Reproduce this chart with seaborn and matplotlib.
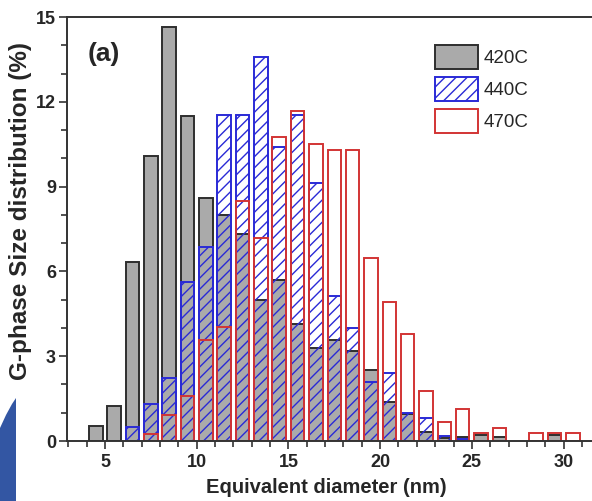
import matplotlib
matplotlib.use("Agg")
import matplotlib.pyplot as plt
import seaborn as sns
from matplotlib import font_manager as fm
from matplotlib.patches import Polygon
from matplotlib.ticker import MultipleLocator

# bin centres (nm) and size distribution (%)
x_420 = [4.5, 5.5, 6.5, 7.5, 8.5, 9.5, 10.5, 11.5, 12.5, 13.5, 14.5, 15.5, 16.5,
         17.5, 18.5, 19.5, 20.5, 21.5, 22.5, 23.5, 24.5, 25.5, 26.5, 29.5]
y_420 = [0.53, 1.24, 6.33, 10.1, 14.65, 11.5, 8.59, 8.01, 7.33, 4.98, 5.68, 4.15, 3.29,
         3.56, 3.19, 2.5, 1.39, 0.95, 0.31, 0.12, 0.15, 0.21, 0.15, 0.2]

x_440 = [6.5, 7.5, 8.5, 9.5, 10.5, 11.5, 12.5, 13.5, 14.5, 15.5, 16.5, 17.5,
         18.5, 19.5, 20.5, 21.5, 22.5, 23.5, 24.5]
y_440 = [0.5, 1.3, 2.24, 5.62, 6.88, 11.54, 11.54, 13.59, 10.39, 11.54, 9.12, 5.12,
         4.01, 2.07, 2.41, 1.0, 0.8, 0.19, 0.08]

x_470 = [7.5, 8.5, 9.5, 10.5, 11.5, 12.5, 13.5, 14.5, 15.5, 16.5, 17.5, 18.5,
         19.5, 20.5, 21.5, 22.5, 23.5, 24.5, 25.5, 26.5, 28.5, 29.5, 30.5]
y_470 = [0.24, 0.92, 1.59, 3.59, 4.03, 8.5, 7.19, 10.74, 11.66, 10.5, 10.3, 10.3,
         6.48, 4.92, 3.8, 1.78, 0.66, 1.12, 0.27, 0.45, 0.27, 0.27, 0.27]

x_ticks = [5, 10, 15, 20, 25, 30]
y_ticks = [0, 3, 6, 9, 12, 15]

sns.set_style("ticks")
plt.rcParams["font.family"] = ["Liberation Sans", "DejaVu Sans"]
plt.rcParams["hatch.linewidth"] = 1.0

fig = plt.figure(figsize=(5.92, 5.01), dpi=100)
ax = fig.add_axes([66.5 / 592, 1 - 441 / 501, 1 - 66.5 / 592, (441 - 17) / 501])

sns.barplot(x=x_420, y=y_420, native_scale=True, width=0.74, color="#aaaaaa",
            saturation=1, edgecolor="#2e2e2e", linewidth=1.4, errorbar=None,
            label="420C", ax=ax)
sns.barplot(x=x_440, y=y_440, native_scale=True, width=0.74, color="#2a2ad6",
            saturation=1, fill=False, hatch="///", linewidth=1.4, errorbar=None,
            label="440C", ax=ax)
sns.barplot(x=x_470, y=y_470, native_scale=True, width=0.74, color="#d23434",
            saturation=1, fill=False, linewidth=1.4, errorbar=None,
            label="470C", ax=ax)

ax.set_xlim(2.9, 31.55)
ax.set_ylim(0, 15)
ax.set_xticks(x_ticks, labels=[str(t) for t in x_ticks], fontweight="bold",
              fontsize=13)
ax.set_yticks(y_ticks, labels=[str(t) for t in y_ticks], fontweight="bold",
              fontsize=13)
ax.xaxis.set_minor_locator(MultipleLocator(1))
ax.yaxis.set_minor_locator(MultipleLocator(1))
ax.tick_params(which="both", direction="out", top=False, right=False,
               color="#333333", width=1.2)
ax.tick_params(which="major", length=6)
ax.tick_params(which="minor", length=4)
ax.tick_params(axis="x", pad=3.5)
ax.tick_params(axis="y", pad=1.5)

for side in ["left", "bottom", "top"]:
    ax.spines[side].set_color("#333333")
    ax.spines[side].set_linewidth(1.4)
ax.spines["right"].set_visible(False)

ax.set_xlabel("Equivalent diameter (nm)", fontweight="bold", fontsize=14.5)
ax.xaxis.set_label_coords(0.494, -0.088)
ax.set_ylabel("G-phase Size distribution (%)", fontweight="bold", fontsize=17.5)
ax.yaxis.set_label_coords(-0.065, 0.542)

ax.text(0.041, 0.94, "(a)", transform=ax.transAxes, fontsize=19,
        fontweight="bold", va="top", ha="left")

ax.legend(loc="upper left", bbox_to_anchor=(435 / 592, 1 - 45 / 501),
          bbox_transform=fig.transFigure, frameon=False,
          prop=fm.FontProperties(family="Liberation Sans", size=13.5),
          handlelength=2.3, handleheight=1.6, labelspacing=0.42,
          handletextpad=0.27, borderpad=0, borderaxespad=0)

# blue slide decoration in the lower left corner
swoosh_px = [(0, 428), (6, 415), (12, 404), (16, 398), (16, 501), (0, 501)]
fig.add_artist(Polygon([(px / 592, 1 - py / 501) for px, py in swoosh_px],
                       closed=True, transform=fig.transFigure,
                       facecolor="#3356a3", edgecolor="none"))

fig.savefig("out.png", dpi=100)
